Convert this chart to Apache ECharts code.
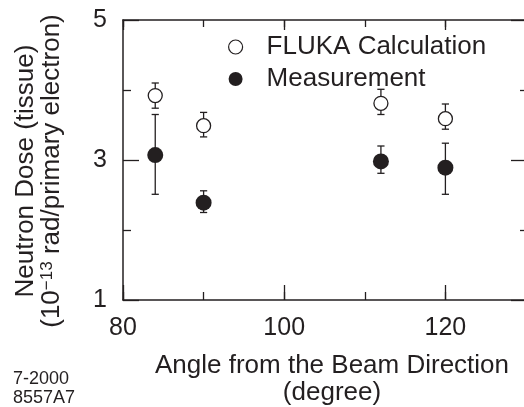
<!DOCTYPE html>
<html>
<head>
<meta charset="utf-8">
<script src="https://cdn.jsdelivr.net/npm/echarts@6/dist/echarts.min.js"></script>
<style>
html,body{margin:0;padding:0;background:#fff;}
#chart{width:524px;height:407px;}
</style>
</head>
<body>
<div id="chart"></div>
<script>
// ---- data ----
const angles = [84, 90, 112, 120];
const flukaDose = [3.92, 3.49, 3.81, 3.59];
const flukaLow  = [3.74, 3.33, 3.65, 3.44];
const flukaHigh = [4.10, 3.68, 4.01, 3.80];
const measDose  = [3.07, 2.39, 2.98, 2.89];
const measLow   = [2.51, 2.25, 2.81, 2.51];
const measHigh  = [3.65, 2.56, 3.20, 3.24];
const xTickLabels = [80, 100, 120];
const yTickLabels = [1, 3, 5];
const seriesNames = ['FLUKA Calculation', 'Measurement'];

const INK = '#231f20';
const FONT = 'Liberation Sans, Arial, Helvetica, sans-serif';

const chart = echarts.init(document.getElementById('chart'), null, {renderer: 'canvas'});

function errData(xs, lo, hi) {
  return xs.map((x, i) => [x, lo[i], hi[i]]);
}
function errRender(params, api) {
  const x = api.value(0);
  const lo = api.coord([x, api.value(1)]);
  const hi = api.coord([x, api.value(2)]);
  const w = 3.6;
  const st = {stroke: INK, lineWidth: 1.3};
  return {
    type: 'group',
    children: [
      {type: 'line', shape: {x1: lo[0], y1: lo[1], x2: hi[0], y2: hi[1]}, style: st},
      {type: 'line', shape: {x1: lo[0]-w, y1: lo[1], x2: lo[0]+w, y2: lo[1]}, style: st},
      {type: 'line', shape: {x1: hi[0]-w, y1: hi[1], x2: hi[0]+w, y2: hi[1]}, style: st}
    ]
  };
}

const axisLineStyle = {color: INK, width: 1.5};
const baseX = {type: 'value', min: 80, max: 130, splitLine: {show: false}, gridIndex: 0};
const baseY = {type: 'value', min: 1, max: 5, interval: 2, splitLine: {show: false}, gridIndex: 0};

const option = {
  animation: false,
  backgroundColor: '#fff',
  textStyle: {fontFamily: FONT, color: INK},
  grid: {left: 123, top: 20, width: 403, height: 280, containLabel: false, outerBoundsMode: 'none'},
  legend: {
    data: [
      {name: seriesNames[0], icon: 'circle', itemStyle: {color: '#fff', borderColor: INK, borderWidth: 1.2}},
      {name: seriesNames[1], icon: 'circle', itemStyle: {color: INK, borderWidth: 0}}
    ],
    orient: 'vertical',
    left: 223,
    top: 29,
    itemWidth: 52,
    itemHeight: 14,
    itemGap: 6,
    textStyle: {fontFamily: FONT, fontSize: 26, color: INK, lineHeight: 26}
  },
  xAxis: [
    Object.assign({}, baseX, {position: 'bottom', interval: 10,
      axisLine: {show: true, lineStyle: axisLineStyle},
      axisTick: {show: true, inside: true, length: 8, lineStyle: {color: INK, width: 1.3}},
      axisLabel: {show: false}}),
    Object.assign({}, baseX, {position: 'bottom', interval: 20,
      axisLine: {show: false},
      axisTick: {show: true, inside: true, length: 15, lineStyle: {color: INK, width: 1.3}},
      axisLabel: {show: true, margin: 16, fontSize: 25, color: INK, fontFamily: FONT,
        formatter: v => (xTickLabels.indexOf(v) >= 0 ? String(v) : '')},
      name: 'Angle from the Beam Direction\n(degree)',
      nameLocation: 'middle',
      nameGap: 52,
      nameTextStyle: {fontSize: 26, color: INK, fontFamily: FONT, lineHeight: 27, padding: [0, 0, 0, 15]}}),
    Object.assign({}, baseX, {position: 'top', interval: 10,
      axisLine: {show: true, lineStyle: axisLineStyle},
      axisTick: {show: true, inside: true, length: 7, lineStyle: {color: INK, width: 1.3}},
      axisLabel: {show: false}}),
    Object.assign({}, baseX, {position: 'top', interval: 20,
      axisLine: {show: false},
      axisTick: {show: true, inside: true, length: 10, lineStyle: {color: INK, width: 1.3}},
      axisLabel: {show: false}})
  ],
  yAxis: [
    Object.assign({}, baseY, {position: 'left',
      axisLine: {show: true, lineStyle: axisLineStyle},
      axisTick: {show: true, inside: true, length: 16, lineStyle: {color: INK, width: 1.3}},
      minorTick: {show: true, splitNumber: 2, length: 8, lineStyle: {color: INK, width: 1.3}},
      axisLabel: {show: true, margin: 16, fontSize: 25, color: INK, fontFamily: FONT,
        formatter: v => (yTickLabels.indexOf(v) >= 0 ? String(v) : '')},
      name: 'Neutron Dose (tissue)\n(10{sup|−13} rad/primary electron)',
      nameLocation: 'middle',
      nameRotate: 90,
      nameGap: 58,
      nameTextStyle: {fontSize: 26, color: INK, fontFamily: FONT, lineHeight: 26,
        padding: [0, 22, 0, 0],
        rich: {sup: {fontSize: 17, verticalAlign: 'top', padding: [0, 0, 10, 0], color: INK, fontFamily: FONT}}}}),
    Object.assign({}, baseY, {position: 'right',
      axisLine: {show: true, lineStyle: axisLineStyle},
      axisTick: {show: true, inside: true, length: 15, lineStyle: {color: INK, width: 1.3}},
      minorTick: {show: true, splitNumber: 2, length: 6, lineStyle: {color: INK, width: 1.3}},
      axisLabel: {show: false}})
  ],
  series: [
    {type: 'custom', name: 'fluka-err', xAxisIndex: 0, yAxisIndex: 0, z: 1,
      renderItem: errRender, encode: {x: 0, y: [1, 2]}, data: errData(angles, flukaLow, flukaHigh)},
    {type: 'custom', name: 'meas-err', xAxisIndex: 0, yAxisIndex: 0, z: 1,
      renderItem: errRender, encode: {x: 0, y: [1, 2]}, data: errData(angles, measLow, measHigh)},
    {type: 'scatter', name: seriesNames[0], xAxisIndex: 0, yAxisIndex: 0, z: 3,
      symbol: 'circle', symbolSize: 14,
      itemStyle: {color: '#fff', borderColor: INK, borderWidth: 1.3, opacity: 1},
      data: angles.map((x, i) => [x, flukaDose[i]])},
    {type: 'scatter', name: seriesNames[1], xAxisIndex: 0, yAxisIndex: 0, z: 3,
      symbol: 'circle', symbolSize: 16,
      itemStyle: {color: INK, borderWidth: 0, opacity: 1},
      data: angles.map((x, i) => [x, measDose[i]])}
  ],
  graphic: [
    {type: 'text', left: 13, top: 370, style: {text: '7-2000', font: '18px ' + FONT, fill: INK}},
    {type: 'text', left: 13, top: 389, style: {text: '8557A7', font: '18px ' + FONT, fill: INK}}
  ]
};
chart.setOption(option);
</script>
</body>
</html>
